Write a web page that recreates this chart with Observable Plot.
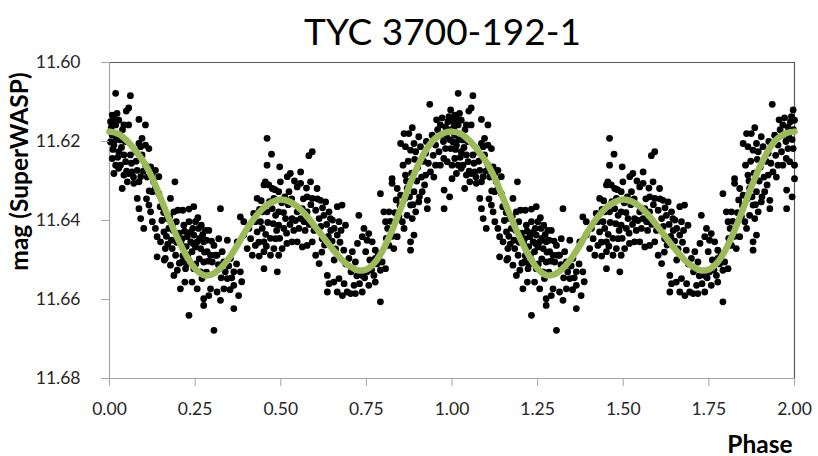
<!DOCTYPE html>
<html>
<head>
<meta charset="utf-8">
<script src="https://cdn.jsdelivr.net/npm/d3@7"></script>
<script src="https://cdn.jsdelivr.net/npm/@observablehq/plot@0.6"></script>
<style>
  html, body { margin: 0; padding: 0; background: #fff; }
  #chart { width: 818px; height: 456px; }
</style>
</head>
<body>
<div id="chart"></div>
<script>
// ---- Text ----
const titleText = "TYC 3700-192-1";
const xLabel = "Phase";
const yLabel = "mag (SuperWASP)";

// ---- Tick values ----
const xTicks = [0, 0.25, 0.5, 0.75, 1, 1.25, 1.5, 1.75, 2];
const yTicks = [11.60, 11.62, 11.64, 11.66, 11.68];

// ---- Observations, phase 0–1 (the chart repeats them over phase 1–2) ----
// [phase, mag]
const obsEarly = [
  [0.018,11.6078],[0.061,11.6084],[0.056,11.6115],[0.049,11.6123],[0.008,11.6133],[0.022,11.6129],[0.013,11.6142],[0.003,11.6150],[0.027,11.6146],[0.018,11.6158],
  [0.042,11.6158],[0.056,11.6158],[0.086,11.6144],[0.105,11.6158],[0.008,11.6184],[0.003,11.6201],[0.013,11.6209],[0.032,11.6196],[0.027,11.6226],[0.042,11.6234],
  [0.008,11.6243],[0.018,11.6260],[0.032,11.6260],[0.047,11.6251],[0.061,11.6234],[0.076,11.6226],[0.086,11.6205],[0.095,11.6192],[0.091,11.6213],[0.105,11.6209],
  [0.115,11.6218],[0.095,11.6234],[0.013,11.6281],[0.027,11.6268],[0.042,11.6285],[0.056,11.6281],[0.066,11.6277],[0.081,11.6273],[0.037,11.6319],[0.052,11.6302],
  [0.071,11.6306],[0.086,11.6302],[0.091,11.6289],[0.105,11.6260],[0.120,11.6264],[0.134,11.6273],[0.125,11.6281],[0.081,11.6344],[0.086,11.6370],[0.091,11.6395],
  [0.100,11.6420],[0.115,11.6361],[0.120,11.6378],[0.125,11.6327],[0.134,11.6319],[0.144,11.6332],[0.129,11.6302],[0.144,11.6289],[0.191,11.6302],[0.178,11.6344],
  [0.188,11.6378],[0.200,11.6374],[0.214,11.6374],[0.232,11.6371],[0.246,11.6365],[0.168,11.6395],[0.173,11.6420],[0.183,11.6412],[0.195,11.6403],[0.125,11.6403],
  [0.134,11.6420],[0.139,11.6441],[0.149,11.6454],[0.159,11.6429],[0.163,11.6471],[0.139,11.6492],[0.163,11.6496],[0.183,11.6471],[0.193,11.6488],[0.178,11.6513],
  [0.188,11.6539],[0.198,11.6526],[0.212,11.6505],[0.222,11.6522],[0.232,11.6501],[0.207,11.6573],[0.232,11.6640],[0.212,11.6446],[0.227,11.6441],[0.237,11.6454],
  [0.243,11.6420],[0.246,11.6437],[0.217,11.6412],[0.232,11.6403],[0.241,11.6479],[0.251,11.6467],[0.220,11.6556],[0.241,11.6556]
];
const obsFirstMin = [
  [0.251,11.6403],[0.260,11.6420],[0.256,11.6454],[0.266,11.6471],[0.280,11.6425],[0.290,11.6425],[0.275,11.6454],[0.285,11.6479],[0.275,11.6505],[0.295,11.6488],
  [0.305,11.6463],[0.319,11.6446],[0.324,11.6370],[0.314,11.6488],[0.329,11.6479],[0.344,11.6450],[0.334,11.6505],[0.353,11.6496],[0.363,11.6530],[0.382,11.6530],
  [0.344,11.6547],[0.363,11.6564],[0.377,11.6590],[0.363,11.6623],[0.334,11.6573],[0.314,11.6581],[0.324,11.6602],[0.295,11.6573],[0.290,11.6590],[0.275,11.6598],
  [0.275,11.6615],[0.305,11.6678],[0.256,11.6573],[0.382,11.6391],[0.392,11.6403],[0.373,11.6454],[0.392,11.6437],[0.407,11.6420],[0.412,11.6446],[0.402,11.6471],
  [0.417,11.6488],[0.426,11.6463],[0.431,11.6429],[0.426,11.6403],[0.441,11.6403],[0.446,11.6420],[0.451,11.6454],[0.451,11.6479],[0.451,11.6522],[0.470,11.6488],
  [0.480,11.6471],[0.490,11.6530],[0.485,11.6446],[0.431,11.6344],[0.451,11.6310],[0.455,11.6302],[0.465,11.6310],[0.475,11.6319],[0.446,11.6378],[0.460,11.6378],
  [0.475,11.6370],[0.485,11.6387],[0.494,11.6378],[0.480,11.6344],[0.494,11.6327],[0.499,11.6302],[0.494,11.6412],[0.460,11.6260],[0.473,11.6232],[0.460,11.6192],
  [0.497,11.6264],[0.266,11.6530],[0.270,11.6547],[0.246,11.6522]
];
const obsSecondMin = [
  [0.592,11.6226],[0.582,11.6236],[0.528,11.6281],[0.519,11.6289],[0.558,11.6277],[0.524,11.6327],[0.548,11.6315],[0.558,11.6306],[0.587,11.6302],[0.606,11.6319],
  [0.577,11.6340],[0.592,11.6344],[0.616,11.6349],[0.631,11.6353],[0.514,11.6395],[0.509,11.6420],[0.533,11.6395],[0.548,11.6378],[0.563,11.6370],[0.577,11.6378],
  [0.568,11.6403],[0.602,11.6374],[0.612,11.6395],[0.626,11.6387],[0.641,11.6378],[0.651,11.6399],[0.665,11.6365],[0.679,11.6361],[0.670,11.6403],[0.689,11.6412],
  [0.646,11.6425],[0.665,11.6437],[0.533,11.6454],[0.548,11.6454],[0.563,11.6467],[0.577,11.6463],[0.602,11.6488],[0.612,11.6509],[0.592,11.6454],[0.621,11.6446],
  [0.504,11.6471],[0.494,11.6488],[0.636,11.6539],[0.641,11.6560],[0.655,11.6556],[0.670,11.6547],[0.685,11.6560],[0.694,11.6581],[0.704,11.6585],[0.718,11.6585],
  [0.714,11.6564],[0.680,11.6590],[0.665,11.6581],[0.636,11.6581],[0.709,11.6479],[0.699,11.6496],[0.718,11.6505],[0.724,11.6458],[0.728,11.6387],[0.738,11.6539]
];
const obsLate = [
  [0.935,11.6106],[0.996,11.6120],[0.991,11.6137],[1.000,11.6146],[0.966,11.6158],[0.981,11.6163],[0.884,11.6165],[0.860,11.6180],[0.874,11.6180],[0.850,11.6205],
  [0.864,11.6213],[0.889,11.6205],[0.903,11.6188],[0.942,11.6184],[0.966,11.6184],[0.879,11.6222],[0.894,11.6226],[0.908,11.6213],[0.923,11.6230],[0.952,11.6209],
  [0.962,11.6226],[0.981,11.6218],[0.996,11.6218],[0.986,11.6251],[1.000,11.6260],[1.000,11.6294],[0.976,11.6243],[0.966,11.6260],[0.952,11.6260],[0.937,11.6277],
  [0.923,11.6285],[0.864,11.6285],[0.825,11.6294],[0.825,11.6306],[0.840,11.6319],[0.850,11.6336],[0.869,11.6319],[0.889,11.6327],[0.913,11.6327],[0.928,11.6349],
  [0.903,11.6353],[0.879,11.6361],[0.894,11.6378],[0.869,11.6387],[0.884,11.6395],[0.855,11.6403],[0.860,11.6420],[0.889,11.6437],[0.879,11.6454],[0.879,11.6475],
  [0.840,11.6441],[0.830,11.6471],[0.816,11.6463],[0.806,11.6403],[0.791,11.6332],[0.801,11.6378],[0.816,11.6378],[0.977,11.6323],[0.993,11.6340],[0.977,11.6370],
  [0.928,11.6370],[0.757,11.6433],[0.743,11.6420],[0.738,11.6441],[0.767,11.6454],[0.752,11.6450],[0.748,11.6479],[0.776,11.6475],[0.776,11.6496],[0.796,11.6505],
  [0.806,11.6522],[0.791,11.6526],[0.772,11.6539],[0.752,11.6530],[0.757,11.6564],[0.776,11.6556],[0.738,11.6581],[0.791,11.6606]
];
// Points inside the dense, overlapping clusters near the curve
const obsDense = [
  [0.005,11.6165],[0.010,11.6220],[0.020,11.6195],[0.024,11.6240],[0.035,11.6215],[0.038,11.6170],[0.046,11.6200],[0.050,11.6275],[0.064,11.6255],[0.070,11.6290],
  [0.078,11.6250],[0.099,11.6275],[0.110,11.6290],[0.116,11.6325],[0.108,11.6345],[0.148,11.6365],[0.153,11.6400],[0.158,11.6380],[0.166,11.6440],[0.170,11.6460],
  [0.176,11.6390],[0.181,11.6450],[0.186,11.6425],[0.196,11.6455],[0.160,11.6500],[0.203,11.6432],[0.209,11.6458],[0.219,11.6427],[0.224,11.6466],[0.229,11.6487],
  [0.236,11.6430],[0.244,11.6458],[0.214,11.6489],[0.204,11.6508],[0.226,11.6510],[0.258,11.6393],[0.263,11.6445],[0.268,11.6412],[0.272,11.6436],[0.277,11.6480],
  [0.283,11.6450],[0.288,11.6503],[0.262,11.6497],[0.298,11.6452],[0.300,11.6505],[0.309,11.6488],[0.318,11.6512],[0.283,11.6531],[0.252,11.6510],[0.338,11.6530],
  [0.348,11.6515],[0.357,11.6545],[0.371,11.6510],[0.386,11.6555],[0.352,11.6575],[0.326,11.6545],[0.421,11.6382],[0.436,11.6455],[0.438,11.6372],[0.443,11.6350],
  [0.456,11.6435],[0.462,11.6405],[0.467,11.6352],[0.470,11.6445],[0.478,11.6408],[0.483,11.6322],[0.488,11.6425],[0.497,11.6445],[0.458,11.6465],[0.437,11.6490],
  [0.503,11.6355],[0.508,11.6380],[0.512,11.6340],[0.517,11.6432],[0.522,11.6360],[0.527,11.6410],[0.532,11.6345],[0.538,11.6425],[0.543,11.6400],[0.518,11.6458],
  [0.540,11.6300],[0.553,11.6420],[0.558,11.6395],[0.566,11.6345],[0.571,11.6425],[0.583,11.6410],[0.588,11.6360],[0.597,11.6425],[0.575,11.6318],[0.607,11.6345],
  [0.617,11.6415],[0.622,11.6368],[0.628,11.6462],[0.634,11.6410],[0.639,11.6440],[0.645,11.6395],[0.650,11.6452],[0.656,11.6420],[0.660,11.6472],[0.673,11.6455],
  [0.676,11.6425],[0.684,11.6475],[0.690,11.6510],[0.656,11.6500],[0.620,11.6480],[0.705,11.6530],[0.722,11.6540],[0.730,11.6560],[0.745,11.6545],[0.760,11.6500],
  [0.765,11.6525],[0.781,11.6510],[0.785,11.6485],[0.808,11.6445],[0.812,11.6420],[0.820,11.6402],[0.826,11.6440],[0.833,11.6380],[0.837,11.6348],[0.845,11.6390],
  [0.848,11.6362],[0.857,11.6260],[0.862,11.6345],[0.867,11.6300],[0.872,11.6250],[0.876,11.6340],[0.882,11.6280],[0.886,11.6360],[0.891,11.6245],[0.897,11.6300],
  [0.900,11.6265],[0.905,11.6340],[0.911,11.6290],[0.917,11.6250],[0.920,11.6310],[0.925,11.6200],[0.931,11.6255],[0.945,11.6235],[0.947,11.6290],[0.971,11.6140],
  [0.975,11.6200],[0.983,11.6185],[0.988,11.6150],[0.993,11.6195],[0.997,11.6170],[0.958,11.6170],[0.955,11.6145]
];

// ---- Fitted curve, phase 0–1 (repeated over phase 1–2) ----
const fitPhase = [0,0.025,0.05,0.075,0.1,0.125,0.15,0.175,0.2,0.225,0.25,0.275,0.3,0.325,0.35,0.375,0.4,0.425,0.45,0.475,0.5,
                  0.525,0.55,0.575,0.6,0.625,0.65,0.675,0.7,0.725,0.75,0.775,0.8,0.825,0.85,0.875,0.9,0.925,0.95,0.975,1];
const fitMag = [11.6175,11.6180,11.6197,11.6222,11.6252,11.6293,11.6345,11.6398,11.6447,11.6490,11.6522,11.6538,11.6536,11.6520,11.6494,11.6460,11.6423,11.6392,11.6368,11.6353,11.6347,
                11.6352,11.6366,11.6388,11.6415,11.6443,11.6471,11.6496,11.6515,11.6526,11.6524,11.6506,11.6472,11.6425,11.6370,11.6313,11.6262,11.6220,11.6193,11.6179,11.6175];

// ---- Build tables for the library ----
const oneCycle = [...obsEarly, ...obsFirstMin, ...obsSecondMin, ...obsLate, ...obsDense];
const points = [];
for (const cycle of [0, 1]) {
  for (const [p, m] of oneCycle) points.push({phase: p + cycle, mag: m});
}
const fit = [];
for (const cycle of [0, 1]) {
  fitPhase.forEach((p, i) => {
    if (cycle === 1 && i === 0) return;
    fit.push({phase: p + cycle, mag: fitMag[i]});
  });
}

const fmt2 = d => d.toFixed(2);
const lightAxis = "#a6a6a6";
const darkBorder = "#5a5a5a";
const tickText = "#262626";

const chart = Plot.plot({
  width: 818,
  height: 456,
  marginTop: 62,
  marginBottom: 78,
  marginLeft: 109,
  marginRight: 24,
  style: {fontFamily: "Lato, 'Open Sans', sans-serif", background: "#fff", color: "#000"},
  x: {domain: [0, 2]},
  y: {domain: [11.60, 11.68], reverse: true},
  marks: [
    Plot.ruleY([11.60], {stroke: darkBorder, strokeWidth: 1.2}),
    Plot.ruleX([2], {stroke: darkBorder, strokeWidth: 1.2}),
    Plot.ruleX([0], {stroke: lightAxis, strokeWidth: 1.2}),
    Plot.ruleY([11.68], {stroke: lightAxis, strokeWidth: 1.2}),
    Plot.dot(points, {x: "phase", y: "mag", r: 3.4, fill: "#000", stroke: "none"}),
    Plot.line(fit, {x: "phase", y: "mag", stroke: "#9BBB59", strokeWidth: 6.5, curve: "catmull-rom"}),
    Plot.axisX({ticks: xTicks, tickFormat: fmt2, tickSize: 8, tickPadding: 16, fontSize: 17.5,
                color: tickText, stroke: lightAxis, label: null}),
    Plot.axisY({ticks: yTicks, tickFormat: fmt2, tickSize: 8, tickPadding: 21, fontSize: 17.5,
                color: tickText, stroke: lightAxis, label: null}),
    Plot.text([titleText], {frameAnchor: "top", dx: -9.5, dy: -18, lineAnchor: "bottom",
                            fontSize: 37, fill: "#000"}),
    Plot.text([yLabel], {frameAnchor: "left", rotate: -90, dx: -89, dy: -49, lineAnchor: "middle",
                         textAnchor: "middle", fontSize: 24.5, fontWeight: "bold", fill: "#000"}),
    Plot.text([xLabel], {frameAnchor: "bottom-right", dx: -2, dy: 74, lineAnchor: "bottom",
                         textAnchor: "end", fontSize: 24.5, fontWeight: "bold", fill: "#000"})
  ]
});
document.getElementById("chart").appendChild(chart);
</script>
</body>
</html>
